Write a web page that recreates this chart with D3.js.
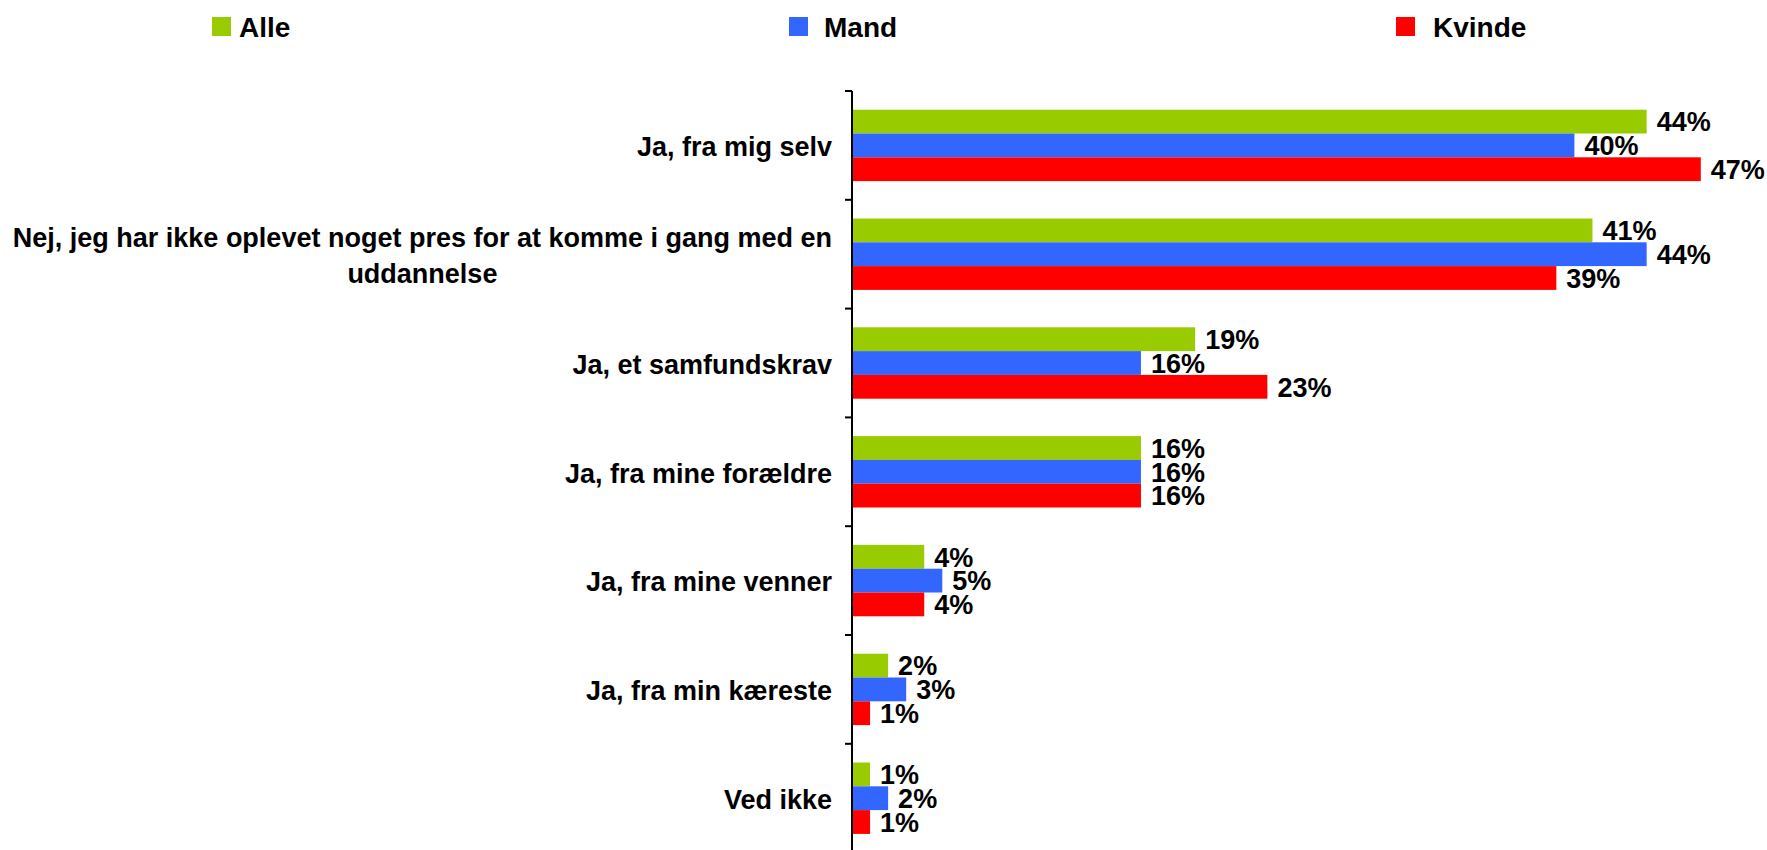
<!DOCTYPE html>
<html>
<head>
<meta charset="utf-8">
<script src="https://cdn.jsdelivr.net/npm/d3@7"></script>
<style>
  body { margin: 0; background: #fff; }
  svg text { font-family: "Liberation Sans", Arial, sans-serif; font-weight: bold; fill: #000; }
</style>
</head>
<body>
<div id="chart"></div>
<script>
const categories = [
    ["Ja, fra mig selv"],
    ["Nej, jeg har ikke oplevet noget pres for at komme i gang med en", "uddannelse"],
    ["Ja, et samfundskrav"],
    ["Ja, fra mine forældre"],
    ["Ja, fra mine venner"],
    ["Ja, fra min kæreste"],
    ["Ved ikke"]
];
const series = ["Alle", "Mand", "Kvinde"];
const colors = ["#99CC00", "#3366FF", "#FF0000"];
const alle = [44, 41, 19, 16, 4, 2, 1];
const mand = [40, 44, 16, 16, 5, 3, 2];
const kvinde = [47, 39, 23, 16, 4, 1, 1];
const values = [alle, mand, kvinde];

const width = 1767, height = 850;
const axisX = 852, plotTop = 91, plotBottom = 852.6;

const svg = d3.select("#chart")
    .append("svg")
    .attr("width", width)
    .attr("height", height);

// scales
const x = d3.scaleLinear().domain([0, 50]).range([axisX, axisX + 903]);
const y = d3.scaleBand()
    .domain(d3.range(categories.length))
    .range([plotTop, plotBottom]);
const ySub = d3.scaleBand()
    .domain(series)
    .range([0, y.bandwidth()])
    .paddingOuter(0.786);

// bars
const groups = svg.append("g").selectAll("g")
    .data(categories)
    .enter()
    .append("g")
    .attr("transform", (d, i) => `translate(0, ${y(i)})`);

series.forEach(function (s, si) {
    groups.append("rect")
        .attr("x", x(0))
        .attr("y", ySub(s))
        .attr("width", (d, i) => x(values[si][i]) - x(0))
        .attr("height", ySub.bandwidth())
        .attr("fill", colors[si]);
    groups.append("text")
        .attr("x", (d, i) => x(values[si][i]) + 10)
        .attr("y", ySub(s) + ySub.bandwidth() / 2)
        .attr("dy", "0.36em")
        .style("font-size", "27px")
        .text((d, i) => values[si][i] + "%");
});

// axis
const axis = svg.append("g").attr("transform", `translate(${axisX}, 0)`);
axis.append("line")
    .attr("y1", plotTop).attr("y2", height)
    .attr("stroke", "#000").attr("stroke-width", 2);
axis.selectAll(".tick")
    .data(d3.range(categories.length + 1))
    .enter()
    .append("line")
    .attr("x1", -7).attr("x2", 0)
    .attr("y1", d => plotTop + d * y.step())
    .attr("y2", d => plotTop + d * y.step())
    .attr("stroke", "#000").attr("stroke-width", 2);

// category labels
const labelRight = 832, lineGap = 36;
groups.each(function (lines) {
    const g = d3.select(this);
    const mid = y.bandwidth() / 2 + 1;
    const y0 = mid - (lines.length - 1) * lineGap / 2;
    const first = g.append("text")
        .attr("x", labelRight)
        .attr("y", y0)
        .attr("dy", "0.36em")
        .attr("text-anchor", "end")
        .style("font-size", "27px")
        .text(lines[0]);
    const w = first.node().getComputedTextLength();
    lines.slice(1).forEach(function (l, li) {
        g.append("text")
            .attr("x", labelRight - w / 2)
            .attr("y", y0 + (li + 1) * lineGap)
            .attr("dy", "0.36em")
            .attr("text-anchor", "middle")
            .style("font-size", "27px")
            .text(l);
    });
});

// legend
const legendX = [212, 789, 1396];
const legendGap = [8, 16, 18];
const legend = svg.append("g").selectAll("g")
    .data(series)
    .enter()
    .append("g")
    .attr("transform", (d, i) => `translate(${legendX[i]}, 17)`);
legend.append("rect")
    .attr("width", 19).attr("height", 19)
    .attr("fill", (d, i) => colors[i]);
legend.append("text")
    .attr("x", (d, i) => 19 + legendGap[i])
    .attr("y", 9.5)
    .attr("dy", "0.36em")
    .style("font-size", "28px")
    .text(d => d);
</script>
</body>
</html>
